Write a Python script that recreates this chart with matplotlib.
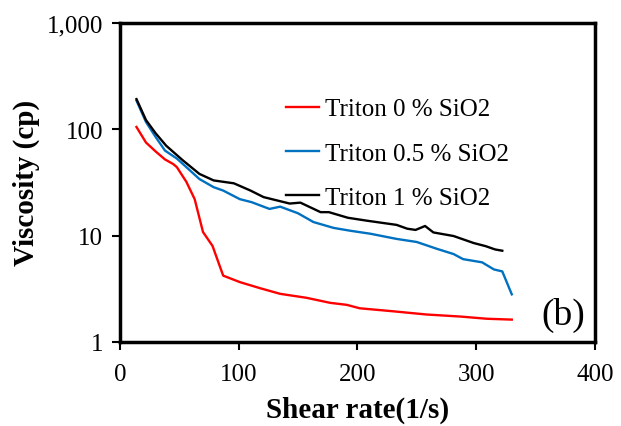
import numpy as np
import matplotlib
matplotlib.use('Agg')
import matplotlib.pyplot as plt
from matplotlib.ticker import FuncFormatter

# datos
rate_0 = [14, 22, 30, 38, 45, 48, 56, 63, 70, 78, 87, 101, 118, 135, 157, 177, 191, 202, 230, 258, 287, 309, 330]
visc_0 = [105, 75, 62, 52, 47, 44, 32, 22, 10.8, 8, 4.2, 3.65, 3.2, 2.83, 2.6, 2.33, 2.23, 2.07, 1.94, 1.81, 1.73, 1.65, 1.62]

rate_05 = [14, 22, 30, 38, 48, 57, 67, 79, 87, 101, 111, 126, 135, 150, 163, 180, 194, 211, 233, 250, 267, 281, 289, 305, 315, 322, 330]
visc_05 = [186, 117, 85, 63, 53, 43, 34, 28.5, 26.5, 22, 20.6, 17.8, 18.7, 16.2, 13.4, 11.8, 11.1, 10.4, 9.3, 8.7, 7.5, 6.7, 6.0, 5.6, 4.8, 4.6, 2.8]

rate_1 = [14, 22, 30, 39, 53, 67, 79, 96, 110, 121, 143, 152, 169, 176, 192, 208, 233, 242, 249, 257, 264, 281, 298, 308, 316, 322]
visc_1 = [192, 122, 92, 70, 51, 38, 33, 31, 26.5, 23, 20, 20.4, 16.6, 16.6, 14.7, 13.8, 12.6, 11.6, 11.3, 12.3, 10.7, 9.9, 8.5, 7.95, 7.4, 7.2]

x_ticks = [0, 100, 200, 300, 400]
y_ticks = [1, 10, 100, 1000]

plt.rcParams['font.family'] = ['Liberation Serif', 'DejaVu Serif']

fig = plt.figure(figsize=(6.21, 4.27), dpi=100)
ax = fig.add_axes([0.193, 0.197, 0.765, 0.747])

ax.plot(rate_0, visc_0, color='#ff0000', lw=1.7, label='Triton 0 % SiO2')
ax.plot(rate_05, visc_05, color='#0070c0', lw=1.7, label='Triton 0.5 % SiO2')
ax.plot(rate_1, visc_1, color='#000000', lw=1.7, label='Triton 1 % SiO2')

ax.set_yscale('log')
ax.set_xlim(0, 400)
ax.set_ylim(1, 1000)
ax.set_xticks(x_ticks)
ax.set_yticks(y_ticks)
ax.yaxis.set_minor_locator(matplotlib.ticker.NullLocator())
ax.yaxis.set_major_formatter(FuncFormatter(lambda v, p: '{:,.0f}'.format(v)))
ax.tick_params(labelsize=18, width=1.5, length=6, direction='out')
ax.tick_params(axis='x', pad=9)
ax.tick_params(axis='y', pad=6)

for s in ax.spines.values():
    s.set_linewidth(2.5)

ax.set_xlabel('Shear rate(1/s)', fontsize=21, fontweight='bold', labelpad=8)
ax.set_ylabel('Viscosity (cp)', fontsize=21, fontweight='bold', labelpad=5)

ax.legend(loc='upper left', bbox_to_anchor=(0.35, 0.765), frameon=False, fontsize=18,
          borderpad=0, borderaxespad=0, handlelength=1.3, handletextpad=0.25,
          labelspacing=0.87)

ax.text(0.979, 0.03, '(b)', transform=ax.transAxes, fontsize=27, ha='right', va='bottom')

fig.savefig('out.png', dpi=100)
